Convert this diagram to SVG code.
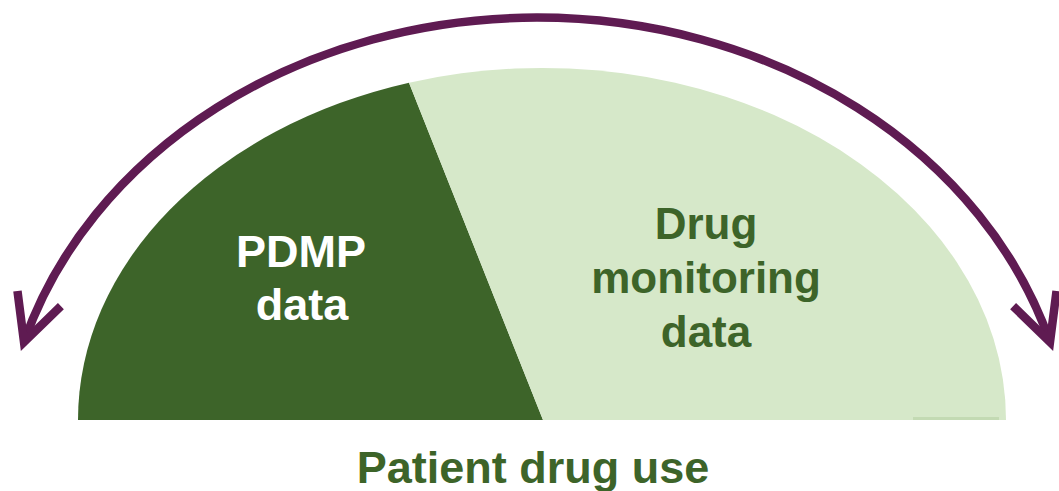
<svg xmlns="http://www.w3.org/2000/svg" width="1059" height="491" viewBox="0 0 1059 491">
  <style>
    .lbl { font-family: "Liberation Sans", Arial, sans-serif; font-weight: bold; text-anchor: middle; }
    .dark { fill: #3D6429; }
    .light { fill: #D6E8C9; }
    .arc { fill: none; stroke: #5F1B52; stroke-width: 8.5; }
  </style>
  <defs>
    <marker id="chev" markerUnits="userSpaceOnUse" orient="auto-start-reverse" overflow="visible" refX="0" refY="0" markerWidth="1" markerHeight="1">
      <polyline points="-46,-23 0,0 -46,23" fill="none" stroke="#5F1B52" stroke-width="8.5" stroke-linejoin="miter"/>
    </marker>
  </defs>
  <rect width="1059" height="491" fill="#FFFFFF"/>
  <g id="pdmp">
    <path class="dark" d="M78,420 A464,352 0 0,1 409,82.7 L543,420 Z"/>
    <text class="lbl" x="301" y="267" font-size="45" fill="#FFFFFF">PDMP</text>
    <text class="lbl" x="302" y="320" font-size="45" fill="#FFFFFF">data</text>
  </g>
  <g id="drug-monitoring">
    <path class="light" d="M409,82.7 A464,352 0 0,1 1006,420 L543,420 Z"/>
    <rect x="913" y="417" width="86" height="3" fill="#C3DAB3"/>
    <text class="lbl" x="706" y="239" font-size="44" fill="#3D6429">Drug</text>
    <text class="lbl" x="706" y="293" font-size="44" fill="#3D6429">monitoring</text>
    <text class="lbl" x="706" y="347" font-size="44" fill="#3D6429">data</text>
  </g>
  <g id="patient-drug-use">
    <text class="lbl" x="533" y="483" font-size="45" fill="#3D6429">Patient drug use</text>
  </g>
  <g id="connectors">
    <path class="arc" d="M24,342 A535,453 0 0,1 1050,342" marker-start="url(#chev)" marker-end="url(#chev)"/>
  </g>
</svg>
